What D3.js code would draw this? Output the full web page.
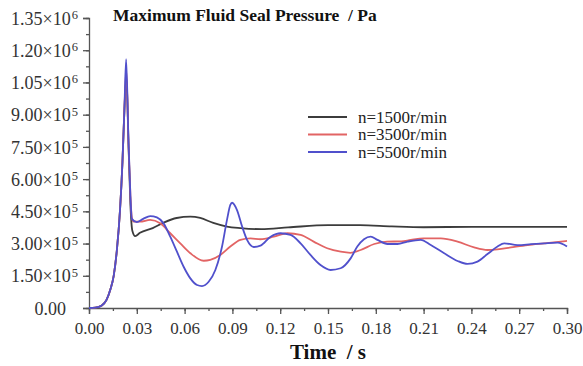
<!DOCTYPE html>
<html>
<head>
<meta charset="utf-8">
<script src="https://cdn.jsdelivr.net/npm/d3@7"></script>
<style>
  body { margin: 0; background: #fff; }
  svg { display: block; font-family: "Liberation Serif", "Times New Roman", serif; }
</style>
</head>
<body>
<div id="chart"></div>
<script>
// ---- data ----
const xTicks = [0, 0.03, 0.06, 0.09, 0.12, 0.15, 0.18, 0.21, 0.24, 0.27, 0.30];
const yTicks = [0, 1.5e5, 3e5, 4.5e5, 6e5, 7.5e5, 9e5, 1.05e6, 1.2e6, 1.35e6];
const yTickLabels = [
  ["0.00", ""], ["1.50\u00d710", "5"], ["3.00\u00d710", "5"], ["4.50\u00d710", "5"],
  ["6.00\u00d710", "5"], ["7.50\u00d710", "5"], ["9.00\u00d710", "5"],
  ["1.05\u00d710", "6"], ["1.20\u00d710", "6"], ["1.35\u00d710", "6"]
];

// common start-up rise [time s, pressure Pa]
const rise = [[0, 0], [0.004, 2e3], [0.008, 12e3], [0.011, 38e3], [0.0135, 88e3],
  [0.0155, 150e3], [0.0175, 270e3], [0.0195, 460e3], [0.021, 680e3], [0.0222, 920e3]];

const n1500 = [[0.0235, 1.075e6], [0.0248, 760e3], [0.026, 480e3], [0.0272, 360e3],
  [0.029, 335e3], [0.032, 350e3], [0.040, 372e3], [0.0465, 396e3], [0.055, 419e3],
  [0.0636, 425e3], [0.0698, 419e3], [0.078, 396e3], [0.0866, 379e3], [0.095, 372e3],
  [0.108, 367e3], [0.125, 375e3], [0.150, 386e3], [0.170, 386e3], [0.190, 380e3],
  [0.210, 376e3], [0.240, 378e3], [0.270, 378e3], [0.300, 378e3]];

const n3500 = [[0.0234, 1.108e6], [0.0248, 760e3], [0.026, 520e3], [0.0269, 420e3],
  [0.028, 402e3], [0.032, 402e3], [0.0384, 410e3], [0.0447, 394e3], [0.051, 348e3],
  [0.0573, 301e3], [0.0636, 255e3], [0.072, 220e3], [0.0761, 224e3], [0.0824, 247e3],
  [0.0887, 286e3], [0.095, 317e3], [0.1013, 324e3], [0.1076, 320e3], [0.116, 332e3],
  [0.1245, 348e3], [0.1328, 340e3], [0.141, 309e3], [0.1495, 278e3], [0.158, 262e3],
  [0.164, 257e3], [0.1705, 270e3], [0.179, 298e3], [0.187, 309e3], [0.196, 310e3],
  [0.202, 317e3], [0.210, 324e3], [0.2208, 324e3], [0.2313, 309e3], [0.2417, 282e3],
  [0.2501, 270e3], [0.2564, 273e3], [0.2648, 282e3], [0.2753, 293e3], [0.2858, 301e3],
  [0.300, 312e3]];

const n5500 = [[0.0233, 1.159e6], [0.0247, 800e3], [0.026, 520e3], [0.0269, 415e3],
  [0.030, 400e3], [0.034, 415e3], [0.0384, 428e3], [0.0426, 422e3], [0.0468, 394e3],
  [0.051, 332e3], [0.0552, 262e3], [0.0594, 192e3], [0.0636, 138e3], [0.0678, 107e3],
  [0.0709, 102e3], [0.0751, 122e3], [0.0793, 177e3], [0.0835, 286e3], [0.0866, 410e3],
  [0.0887, 480e3], [0.0898, 490e3], [0.0929, 456e3], [0.0961, 379e3], [0.0992, 317e3],
  [0.1034, 284e3], [0.1076, 290e3], [0.114, 332e3], [0.1202, 348e3], [0.1265, 340e3],
  [0.1328, 301e3], [0.139, 247e3], [0.1453, 200e3], [0.1516, 177e3], [0.1579, 185e3],
  [0.1642, 231e3], [0.1684, 286e3], [0.1726, 320e3], [0.1768, 332e3], [0.181, 317e3],
  [0.1873, 298e3], [0.1936, 298e3], [0.1999, 309e3], [0.2082, 317e3], [0.2145, 293e3],
  [0.2229, 255e3], [0.2313, 219e3], [0.2376, 205e3], [0.2438, 216e3], [0.2501, 251e3],
  [0.2564, 286e3], [0.2606, 301e3], [0.269, 293e3], [0.2774, 297e3], [0.2858, 301e3],
  [0.2942, 304e3], [0.300, 286e3]];

const seriesNames = ["n=1500r/min", "n=3500r/min", "n=5500r/min"];
const seriesData = [n1500, n3500, n5500];
const seriesColors = ["#3c3c3c", "#e26464", "#5050cc"];

// ---- layout ----
const width = 583, height = 366;
const margin = { top: 18, right: 16, bottom: 58, left: 89 };
const w = width - margin.left - margin.right,
      h = height - margin.top - margin.bottom;

const svg = d3.select("#chart")
  .append("svg")
    .attr("width", width)
    .attr("height", height);

const g = svg.append("g")
    .attr("transform", `translate(${margin.left},${margin.top})`);

const x = d3.scaleLinear().domain([0, 0.30]).range([0, w]);
const y = d3.scaleLinear().domain([0, 1.35e6]).range([h, 0]);

// minor ticks
const xMinor = d3.range(0, 0.3001, 0.015);
const yMinor = d3.range(0, 1.35e6 + 1, 7.5e4);

g.append("g")
    .attr("transform", `translate(0,${h})`)
    .call(d3.axisBottom(x).tickValues(xMinor).tickSize(3).tickFormat(""))
    .call(a => a.select(".domain").remove());

g.append("g")
    .call(d3.axisLeft(y).tickValues(yMinor).tickSize(3).tickFormat(""))
    .call(a => a.select(".domain").remove());

// X axis
const xAxis = g.append("g")
    .attr("transform", `translate(0,${h})`)
    .call(d3.axisBottom(x).tickValues(xTicks).tickSize(6).tickPadding(8).tickFormat(d3.format(".2f")));

xAxis.selectAll("text")
    .style("font-family", "Liberation Serif, serif")
    .style("font-size", "17px")
    .attr("fill", "#333");

// Y axis
const yAxis = g.append("g")
    .call(d3.axisLeft(y).tickValues(yTicks).tickSize(6).tickPadding(0).tickFormat(""));

yAxis.selectAll(".tick").each(function(d, i) {
  const lab = yTickLabels[i];
  const t = d3.select(this).append("text")
      .attr("fill", "#333")
      .attr("x", i === 0 ? -23 : -11)
      .attr("dy", "0.34em")
      .attr("text-anchor", "end")
      .style("font-family", "Liberation Serif, serif")
      .style("font-size", "18px");
  t.append("tspan").text(lab[0]);
  if (lab[1]) {
    t.append("tspan")
        .attr("dx", 1)
        .attr("dy", "-0.45em")
        .style("font-size", "12.5px")
        .text(lab[1]);
  }
});

svg.selectAll(".domain, .tick line")
    .attr("stroke", "#555")
    .attr("stroke-width", 1.3);

// Lines
const line = d3.line()
    .x(d => x(d[0]))
    .y(d => y(d[1]))
    .curve(d3.curveMonotoneX);

seriesData.forEach((s, i) => {
  g.append("path")
      .datum(rise.concat(s))
      .attr("fill", "none")
      .attr("stroke", seriesColors[i])
      .attr("stroke-width", 1.8)
      .attr("d", line);
});

// Title
svg.append("text")
    .attr("x", 113)
    .attr("y", 21)
    .style("font-size", "17.5px")
    .style("font-weight", "bold")
    .attr("fill", "#111")
    .attr("xml:space", "preserve")
    .text("Maximum Fluid Seal Pressure  / Pa");

// X label
svg.append("text")
    .attr("x", margin.left + w / 2)
    .attr("y", 359)
    .attr("text-anchor", "middle")
    .style("font-size", "21px")
    .style("font-weight", "bold")
    .attr("fill", "#111")
    .attr("xml:space", "preserve")
    .text("Time  / s");

// Legend
const legend = svg.append("g")
    .attr("transform", "translate(308,117)");

seriesNames.forEach((name, i) => {
  const row = legend.append("g").attr("transform", `translate(0,${i * 17.5})`);
  row.append("line")
      .attr("x1", 0).attr("x2", 39)
      .attr("stroke", seriesColors[i])
      .attr("stroke-width", 1.8);
  row.append("text")
      .attr("x", 50)
      .attr("dy", "0.34em")
      .style("font-size", "17px")
      .attr("fill", "#222")
      .text(name);
});
</script>
</body>
</html>
